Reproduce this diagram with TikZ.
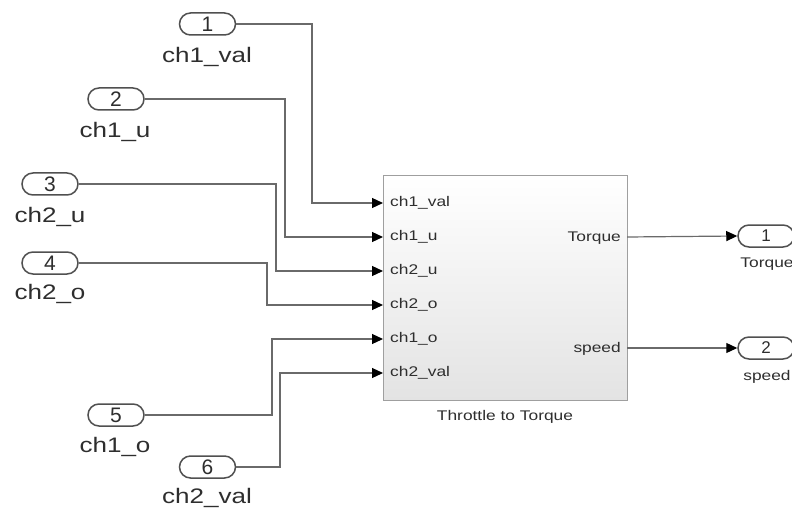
\documentclass[tikz,border=0pt]{standalone}
\usepackage{fontspec}
\setmainfont{Liberation Sans}
\usepackage{graphicx}
\usetikzlibrary{arrows.meta}
\definecolor{wirec}{HTML}{6A6A6A}
\definecolor{txtc}{HTML}{2E2E2E}
\definecolor{ovalc}{HTML}{505050}
\newcommand{\wx}[1]{\scalebox{1.24}[1]{#1}}
\newcommand{\bigf}{\fontsize{21}{21}\selectfont}
\newcommand{\smallf}{\fontsize{14}{14}\selectfont}
\tikzset{
  oval/.style={draw=ovalc, line width=1.5pt, fill=white, rounded corners=11pt,
    minimum width=56pt, minimum height=22pt, inner sep=0pt, text=txtc, font=\bigf},
  ovalsm/.style={oval, font=\fontsize{17}{17}\selectfont},
  lbl/.style={text=txtc, font=\bigf, inner sep=0pt},
  lblsm/.style={text=txtc, font=\smallf, inner sep=0pt},
  wire/.style={draw=wirec, line width=1.2pt},
  arr/.style={wire, -{Triangle[length=11pt,width=10pt,color=black,fill=black]}},
  blockbox/.style={draw=gray!75, line width=1.4pt, top color=white, bottom color=gray!22}
}
\begin{document}
\begin{tikzpicture}[x=1pt,y=-1pt]
\useasboundingbox (0,0) rectangle (792,513);
\clip (0,0) rectangle (792,513);
% block
\node[blockbox, minimum width=244pt, minimum height=225pt, inner sep=0pt, anchor=north west] (blk) at (383,175) {};
\node[lblsm] (blkname) at (505,417) {\wx{Throttle to Torque}};
% ports inside
\coordinate (p1) at (383,203);
\coordinate (p2) at (383,237);
\coordinate (p3) at (383,271);
\coordinate (p4) at (383,305);
\coordinate (p5) at (383,339);
\coordinate (p6) at (383,373);
\coordinate (q1) at (627,237);
\coordinate (q2) at (627,348);
\node[lblsm, anchor=west] (l1) at (390,203) {\wx{ch1\_val}};
\node[lblsm, anchor=west] (l2) at (390,237) {\wx{ch1\_u}};
\node[lblsm, anchor=west] (l3) at (390,271) {\wx{ch2\_u}};
\node[lblsm, anchor=west] (l4) at (390,305) {\wx{ch2\_o}};
\node[lblsm, anchor=west] (l5) at (390,339) {\wx{ch1\_o}};
\node[lblsm, anchor=west] (l6) at (390,373) {\wx{ch2\_val}};
\node[lblsm, anchor=east] (lo1) at (621,238) {\wx{Torque}};
\node[lblsm, anchor=east] (lo2) at (621,349) {\wx{speed}};
% inports
\node[oval] (in1) at (207.5,24) {1};
\node[lbl] (n1) at (207,57) {\wx{ch1\_val}};
\node[oval] (in2) at (116,99) {2};
\node[lbl] (n2) at (115,132) {\wx{ch1\_u}};
\node[oval] (in3) at (50,184) {3};
\node[lbl] (n3) at (50,217) {\wx{ch2\_u}};
\node[oval] (in4) at (50,263) {4};
\node[lbl] (n4) at (50,294) {\wx{ch2\_o}};
\node[oval] (in5) at (116,415) {5};
\node[lbl] (n5) at (115,447) {\wx{ch1\_o}};
\node[oval] (in6) at (207.5,467) {6};
\node[lbl] (n6) at (207,498) {\wx{ch2\_val}};
% outports
\node[ovalsm] (out1) at (766,236) {1};
\node[lblsm] (m1) at (767,264) {\wx{Torque}};
\node[ovalsm] (out2) at (766,348) {2};
\node[lblsm] (m2) at (767,377) {\wx{speed}};
% wires
\draw[arr] (in1.east) -- (312,24) |- (p1);
\draw[arr] (in2.east) -- (285,99) |- (p2);
\draw[arr] (in3.east) -- (276,184) |- (p3);
\draw[arr] (in4.east) -- (267,263) |- (p4);
\draw[arr] (in5.east) -- (272,415) |- (p5);
\draw[arr] (in6.east) -- (280,467) |- (p6);
\draw[arr] (q1) -- (out1.west);
\draw[arr] (q2) -- (out2.west);
\end{tikzpicture}
\end{document}
